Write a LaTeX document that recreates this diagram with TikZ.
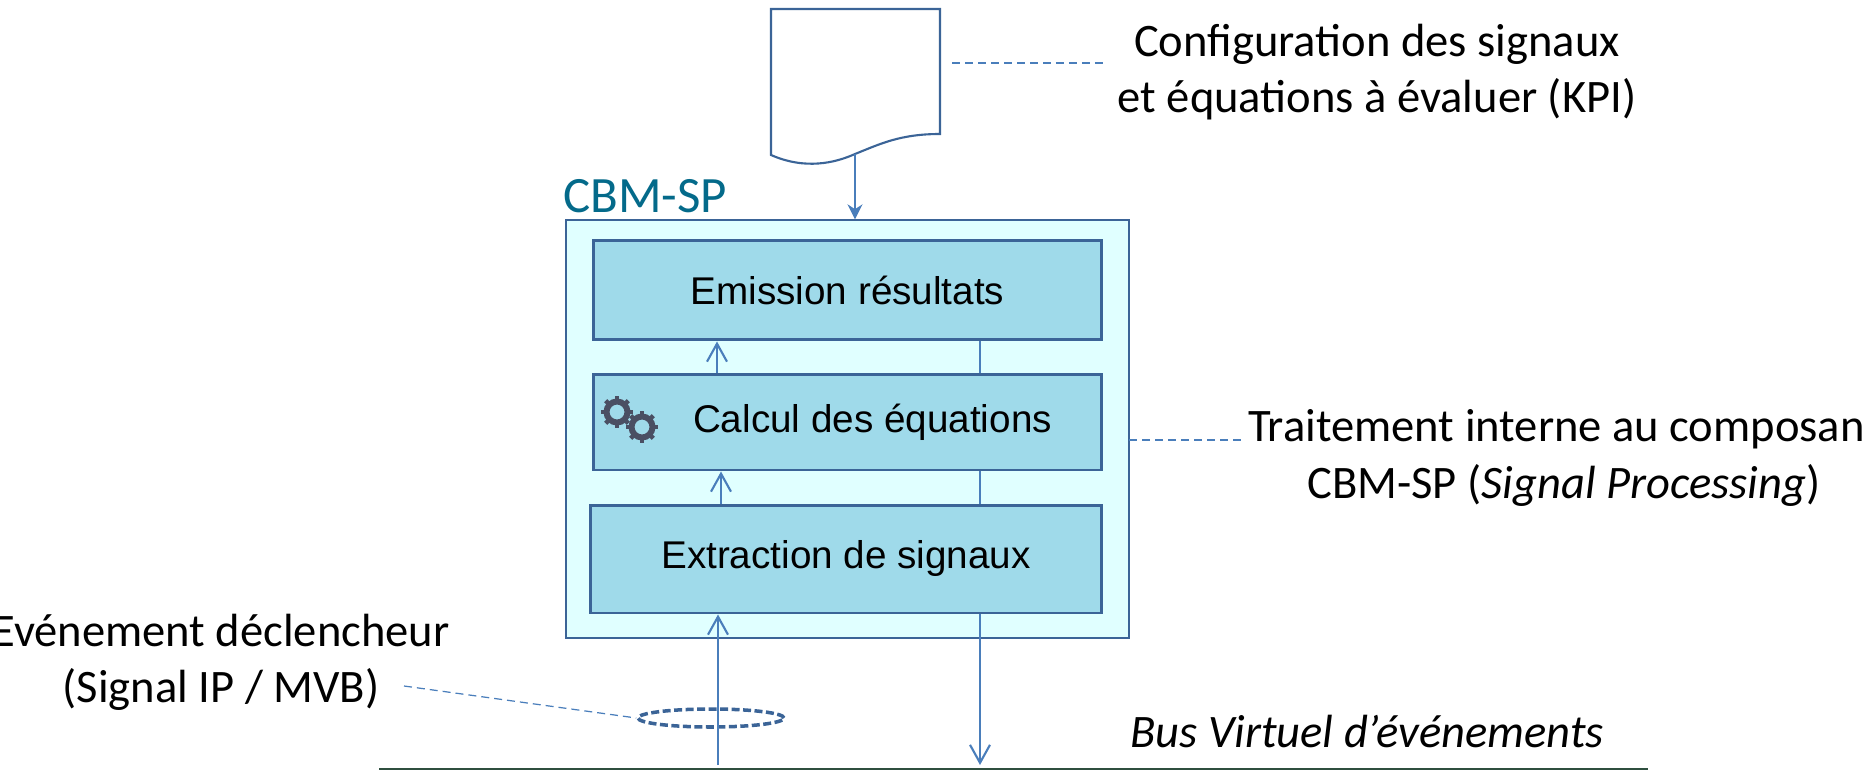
\documentclass[tikz,border=0pt]{standalone}
\usepackage{fontspec}
\setmainfont{Carlito}
\newfontfamily\boxfont{Liberation Sans}
\usetikzlibrary{arrows.meta,shapes.geometric}
\definecolor{boxfill}{HTML}{9FDAEA}
\definecolor{boxline}{HTML}{3B6497}
\definecolor{spfill}{HTML}{E0FFFF}
\definecolor{flowline}{HTML}{4A7EBB}
\definecolor{sptext}{HTML}{046A8A}
\definecolor{gearcol}{HTML}{4A4F63}
\definecolor{busline}{HTML}{2F4F3F}
\tikzset{
  stagebox/.style={draw=boxline, line width=1.7pt, fill=boxfill, font=\boxfont\fontsize{22}{26}\selectfont, inner sep=0pt},
  flow/.style={flowline, line width=1.2pt},
  openflow/.style={flow, -{Straight Barb[length=0.36cm, width=0.4cm]}},
  leader/.style={flowline, line width=0.7pt, dash pattern=on 0.16cm off 0.1cm},
  callout/.style={align=center, font=\fontsize{26.5}{32}\selectfont, inner sep=0pt}
}
\newcommand{\gearicon}[1]{
  \begin{scope}[shift={(#1)}]
    \draw[gearcol, line width=3.4pt] (0,0) circle (10.5);
    \foreach \a in {0,45,...,315}
      \draw[gearcol, line width=2.6pt] (\a:12) -- (\a:16);
  \end{scope}
}
\begin{document}
\begin{tikzpicture}[x=0.02cm, y=-0.02cm]
\useasboundingbox (0,0) rectangle (1862,770);

% composant
\node[draw=boxline, line width=0.8pt, fill=spfill, minimum width=11.26cm, minimum height=8.36cm, inner sep=0pt] (cbmsp) at (847.5,429) {};
\node[font=\fontsize{29}{34}\selectfont, text=sptext, anchor=west, inner sep=0pt] (spname) at (563,196) {CBM-SP};

\node[stagebox, minimum width=10.18cm, minimum height=2cm] (emission) at (847.5,290) {Emission résultats};
\node[stagebox, minimum width=10.18cm, minimum height=1.92cm] (calcul) at (847.5,422) {\hspace*{1.0cm}Calcul des équations};
\node[stagebox, minimum width=10.24cm, minimum height=2.16cm] (extraction) at (846,559) {Extraction de signaux};

\gearicon{617,412}
\gearicon{642,427}

% configuration
\draw[boxline, line width=1.2pt, fill=white] (771,9) -- (940,9) -- (940,134)
  .. controls (900,134) and (880,144) .. (855,154)
  .. controls (835,163) and (805,170) .. (771,155) -- cycle;
\coordinate (docfoot) at (855,154);
\coordinate (docside) at (952,63);
\coordinate (docnote) at (1104,63);
\draw[flow, -{Stealth[length=0.3cm, width=0.3cm]}] (docfoot) -- (docfoot |- cbmsp.north);
\draw[leader] (docside) -- (docnote);
\node[callout] (config) at (1377,72) {Configuration des signaux\\et équations à évaluer (KPI)};

\coordinate (xup) at (718,0);
\coordinate (xupb) at (721,0);
\coordinate (xupa) at (717,0);
\coordinate (xdown) at (980,0);

% flux internes
\draw[openflow] (calcul.north -| xupa) -- (emission.south -| xupa);
\draw[openflow] (extraction.north -| xupb) -- (calcul.south -| xupb);
\draw[flow] (emission.south -| xdown) -- (calcul.north -| xdown);
\draw[flow] (calcul.south -| xdown) -- (extraction.north -| xdown);

% bus
\coordinate (busleft) at (379,769);
\coordinate (busright) at (1648,769);
\coordinate (busup) at (718,765);
\coordinate (busdown) at (980,765);
\draw[busline, line width=1pt] (busleft) -- (busright);
\node[callout, font=\fontsize{26.5}{32}\selectfont\itshape] (busname) at (1367,731) {Bus Virtuel d’événements};

\node[draw=boxline, line width=2pt, dash pattern=on 0.16cm off 0.07cm, ellipse, minimum width=2.92cm, minimum height=0.36cm, inner sep=0pt] (trigger) at (711,718) {};
\draw[openflow] (busup) -- (extraction.south -| xup);
\draw[openflow] (extraction.south -| xdown) -- (busdown);

% annotations
\coordinate (triggernote) at (404,686);
\draw[leader] (triggernote) -- (trigger.west);
\node[callout] (triggertext) at (221,662) {Evénement déclencheur\\(Signal IP / MVB)};

\coordinate (spside) at (1129,440);
\coordinate (spnote) at (1245,440);
\draw[leader] (spside) -- (spnote);
\node[callout] (sptextnode) at (1564,458) {Traitement interne au composant\\CBM-SP (\textit{Signal Processing})};
\end{tikzpicture}
\end{document}
